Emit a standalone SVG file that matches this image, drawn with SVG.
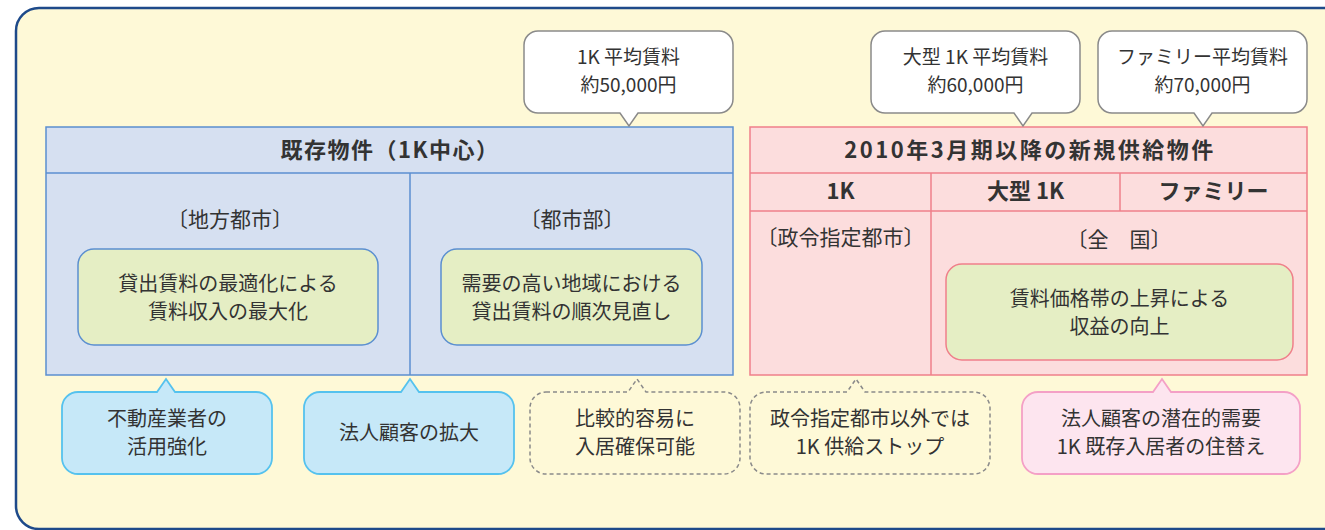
<svg xmlns="http://www.w3.org/2000/svg" width="1325" height="530" viewBox="0 0 1325 530">
<style>
text{font-family:"Noto Sans CJK JP","Noto Sans",sans-serif;fill:#333;text-anchor:middle}
.h{font-size:22px;font-weight:bold}
.b{font-size:20px}
.k{font-size:21px}
.s{font-size:19px}
.tb{fill:#d6e0f1;stroke:#5b8fd0;stroke-width:1.5}
.tp{fill:#fcdddd;stroke:#ef7f8a;stroke-width:1.5}
.ln-b{stroke:#5b8fd0;stroke-width:1.5}
.ln-p{stroke:#ef7f8a;stroke-width:1.5}
.gb{fill:#e5eec4;stroke:#5b8fd0;stroke-width:1.5}
.gp{fill:#e5eec4;stroke:#ef7f8a;stroke-width:1.5}
.cw{fill:#fff;stroke:#8a8a8a;stroke-width:1.5}
.cc{fill:#c6e8f8;stroke:#55c2ee;stroke-width:1.8}
.cd{fill:none;stroke:#8a8a8a;stroke-width:1.5;stroke-dasharray:4 3}
.cp{fill:#fde5ef;stroke:#f4a0c6;stroke-width:1.8}
</style>
<rect x="16" y="8" width="1340" height="521" rx="23" fill="#fef9d7" stroke="#1e4a8a" stroke-width="2.5"/>

<g id="existing">
<rect class="tb" x="46" y="127" width="687" height="248"/>
<line class="ln-b" x1="46" y1="173" x2="733" y2="173"/>
<line class="ln-b" x1="410" y1="173" x2="410" y2="375"/>
<text class="h" x="390" y="158" letter-spacing="1.5">既存物件（1K中心）</text>
<text class="k" x="230" y="227">〔地方都市〕</text>
<text class="k" x="572" y="227">〔都市部〕</text>
</g>
<g id="regional">
<rect class="gb" x="78" y="249" width="300" height="96" rx="16"/>
<text class="b" x="228" y="291">貸出賃料の最適化による</text>
<text class="b" x="228" y="319">賃料収入の最大化</text>
</g>
<g id="urban">
<rect class="gb" x="441" y="249" width="261" height="96" rx="16"/>
<text class="b" x="571.5" y="291">需要の高い地域における</text>
<text class="b" x="571.5" y="319">貸出賃料の順次見直し</text>
</g>

<g id="new-supply">
<rect class="tp" x="750" y="127" width="557" height="248"/>
<line class="ln-p" x1="750" y1="173" x2="1307" y2="173"/>
<line class="ln-p" x1="750" y1="211" x2="1307" y2="211"/>
<line class="ln-p" x1="931" y1="173" x2="931" y2="375"/>
<line class="ln-p" x1="1120" y1="173" x2="1120" y2="211"/>
<text class="h" x="1030" y="158" letter-spacing="2.5">2010年3月期以降の新規供給物件</text>
<text class="h" x="840.5" y="199">1K</text>
<text class="h" x="1025.5" y="199">大型 1K</text>
<text class="h" x="1213.5" y="199">ファミリー</text>
<text class="k" x="840.5" y="245">〔政令指定都市〕</text>
<text class="k" x="1119" y="247">〔全　国〕</text>
</g>
<g id="nationwide">
<rect class="gp" x="946" y="264" width="347" height="96" rx="16"/>
<text class="b" x="1119.5" y="306">賃料価格帯の上昇による</text>
<text class="b" x="1119.5" y="334">収益の向上</text>
</g>

<g id="connectors">
<g id="c-1k-rent">
<path class="cw" d="M538,31H719A14,14 0 0 1 733,45V99A14,14 0 0 1 719,113H638L629,126L620,113H538A14,14 0 0 1 524,99V45A14,14 0 0 1 538,31Z"/>
<text class="s" x="628.5" y="64">1K 平均賃料</text>
<text class="s" x="628.5" y="92">約50,000円</text>
</g>
<g id="c-large-rent">
<path class="cw" d="M885,31H1066A14,14 0 0 1 1080,45V99A14,14 0 0 1 1066,113H1032L1023,126L1014,113H885A14,14 0 0 1 871,99V45A14,14 0 0 1 885,31Z"/>
<text class="s" x="975.5" y="64">大型 1K 平均賃料</text>
<text class="s" x="975.5" y="92">約60,000円</text>
</g>
<g id="c-family-rent">
<path class="cw" d="M1112,31H1293A14,14 0 0 1 1307,45V99A14,14 0 0 1 1293,113H1212L1203,126L1194,113H1112A14,14 0 0 1 1098,99V45A14,14 0 0 1 1112,31Z"/>
<text class="s" x="1202.5" y="64">ファミリー平均賃料</text>
<text class="s" x="1202.5" y="92">約70,000円</text>
</g>
<g id="c-agents">
<path class="cc" d="M78,392H157L166,379L175,392H256A16,16 0 0 1 272,408V458A16,16 0 0 1 256,474H78A16,16 0 0 1 62,458V408A16,16 0 0 1 78,392Z"/>
<text class="b" x="167" y="426">不動産業者の</text>
<text class="b" x="167" y="454">活用強化</text>
</g>
<g id="c-corporate">
<path class="cc" d="M320,392H401L410,379L419,392H498A16,16 0 0 1 514,408V458A16,16 0 0 1 498,474H320A16,16 0 0 1 304,458V408A16,16 0 0 1 320,392Z"/>
<text class="b" x="409" y="440">法人顧客の拡大</text>
</g>
<g id="c-easy">
<path class="cd" d="M546,392H628L637,379L646,392H724A16,16 0 0 1 740,408V458A16,16 0 0 1 724,474H546A16,16 0 0 1 530,458V408A16,16 0 0 1 546,392Z"/>
<text class="b" x="635" y="426">比較的容易に</text>
<text class="b" x="635" y="454">入居確保可能</text>
</g>
<g id="c-stop">
<path class="cd" d="M766,392H847L856,379L865,392H974A16,16 0 0 1 990,408V458A16,16 0 0 1 974,474H766A16,16 0 0 1 750,458V408A16,16 0 0 1 766,392Z"/>
<text class="b" x="870" y="426">政令指定都市以外では</text>
<text class="b" x="870" y="454">1K 供給ストップ</text>
</g>
<g id="c-demand">
<path class="cp" d="M1038,392H1153L1162,379L1171,392H1284A16,16 0 0 1 1300,408V458A16,16 0 0 1 1284,474H1038A16,16 0 0 1 1022,458V408A16,16 0 0 1 1038,392Z"/>
<text class="b" x="1161" y="426">法人顧客の潜在的需要</text>
<text class="b" x="1161" y="454">1K 既存入居者の住替え</text>
</g>
</g>
</svg>
